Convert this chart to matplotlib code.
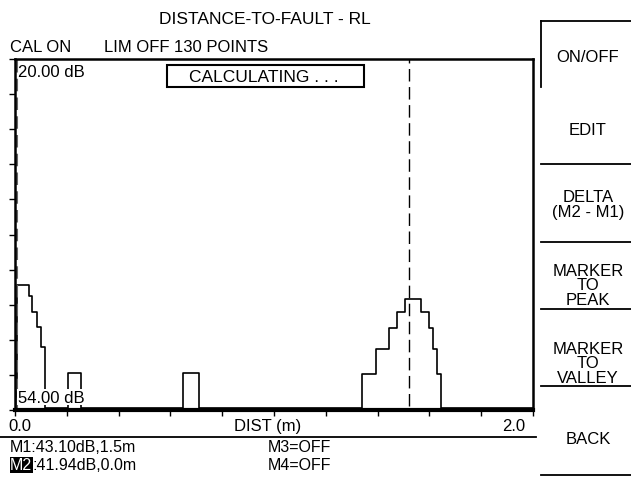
import matplotlib
matplotlib.use('Agg')
import matplotlib.pyplot as plt
from matplotlib.lines import Line2D
from matplotlib.patches import Rectangle

plt.rcParams['font.family'] = ['Liberation Sans', 'DejaVu Sans']

# trace: step edges (m) and return loss (dB) held on each step
edges = [0.0, 0.008, 0.054, 0.066, 0.085, 0.100, 0.116, 0.205, 0.255, 0.649, 0.710,
         1.340, 1.394, 1.444, 1.475, 1.506, 1.568, 1.598, 1.614, 1.629, 1.645, 2.0]
levels = [53.8, 41.9, 43.0, 44.5, 46.0, 47.9, 53.8, 50.4, 53.8, 50.4, 53.8,
          50.5, 48.1, 46.1, 44.5, 43.2, 44.5, 46.1, 48.1, 50.5, 53.8]
marker_pos = [0.008, 1.52]     # M2, M1
y_top, y_bot = 20.0, 54.0
x_min, x_max = 0.0, 2.0

W, H = 631, 485
fig = plt.figure(figsize=(W/100, H/100), dpi=100)

def px(x, y):
    return x/W, 1 - y/H

ax = fig.add_axes([15/W, 1 - 411/H, 518/W, 351/H])
xs = []
ys = []
for i, v in enumerate(levels):
    xs += [edges[i], edges[i+1]]
    ys += [v, v]
ax.plot(xs, ys, color='black', lw=1.2)
ax.axvline(marker_pos[0], color='0.4', lw=1.5, ls=(0, (6, 3)))
ax.axvline(marker_pos[1], ymin=0.01, ymax=1.0, color='black', lw=1.0, ls=(0, (9, 4)))
ax.set_xlim(x_min, x_max)
ax.set_ylim(y_bot, y_top)
ax.set_xticks([x_min + i*(x_max - x_min)/10 for i in range(11)])
ax.set_yticks([y_top + i*(y_bot - y_top)/10 for i in range(11)])
ax.set_xticklabels([])
ax.set_yticklabels([])
ax.tick_params(direction='out', length=4, width=1, color='black')
for s in ax.spines.values():
    s.set_linewidth(1.8)
ax.spines['bottom'].set_linewidth(3)

fs = 12
ax.text(0.006, 0.985, '20.00 dB', transform=ax.transAxes, ha='left', va='top', fontsize=fs)
ax.text(0.006, 0.015, '54.00 dB', transform=ax.transAxes, ha='left', va='bottom', fontsize=fs,
        bbox=dict(fc='white', ec='none', pad=0.5))

fig.text(*px(265, 20), 'DISTANCE-TO-FAULT - RL', ha='center', va='center', fontsize=12.5)
fig.text(*px(10, 47), 'CAL ON', ha='left', va='center', fontsize=fs)
fig.text(*px(104, 47), 'LIM OFF', ha='left', va='center', fontsize=fs)
fig.text(*px(174, 47), '130 POINTS', ha='left', va='center', fontsize=fs)

fig.add_artist(Rectangle(px(167, 88), 197/W, 22/H, fill=False, lw=1.5, ec='black'))
fig.text(*px(264, 77), 'CALCULATING . . .', ha='center', va='center', fontsize=12.5)

fig.text(*px(8, 427), '0.0', ha='left', va='center', fontsize=fs)
fig.text(*px(268, 427), 'DIST (m)', ha='center', va='center', fontsize=fs)
fig.text(*px(525, 427), '2.0', ha='right', va='center', fontsize=fs)
fig.add_artist(Line2D([0, 536/W], [1 - 438/H]*2, color='black', lw=1.3))

fig.text(*px(10, 448), 'M1:43.10dB,1.5m', ha='left', va='center', fontsize=11.5)
fig.text(*px(10, 466), 'M2', ha='left', va='center', fontsize=11.5, color='white',
         bbox=dict(fc='black', ec='none', pad=0.3))
fig.text(*px(32, 466), ':41.94dB,0.0m', ha='left', va='center', fontsize=11.5)
fig.text(*px(268, 448), 'M3=OFF', ha='left', va='center', fontsize=11.5)
fig.text(*px(268, 466), 'M4=OFF', ha='left', va='center', fontsize=11.5)

# soft key panel
fig.add_artist(Line2D([541/W, 541/W], [1 - 22/H, 1 - 88/H], color='black', lw=1.3))
fig.add_artist(Line2D([541/W, 1], [1 - 22/H]*2, color='black', lw=1.3))
for yy in [165, 243, 310, 387, 476]:
    fig.add_artist(Line2D([541/W, 1], [1 - yy/H]*2, color='black', lw=1.3))
keys = [('ON/OFF', 57), ('EDIT', 131), ('DELTA\n(M2 - M1)', 205),
        ('MARKER\nTO\nPEAK', 286), ('MARKER\nTO\nVALLEY', 364), ('BACK', 440)]
for label, yy in keys:
    fig.text(*px(588, yy), label, ha='center', va='center', fontsize=fs, linespacing=0.92)

fig.savefig('out.png', dpi=100)
